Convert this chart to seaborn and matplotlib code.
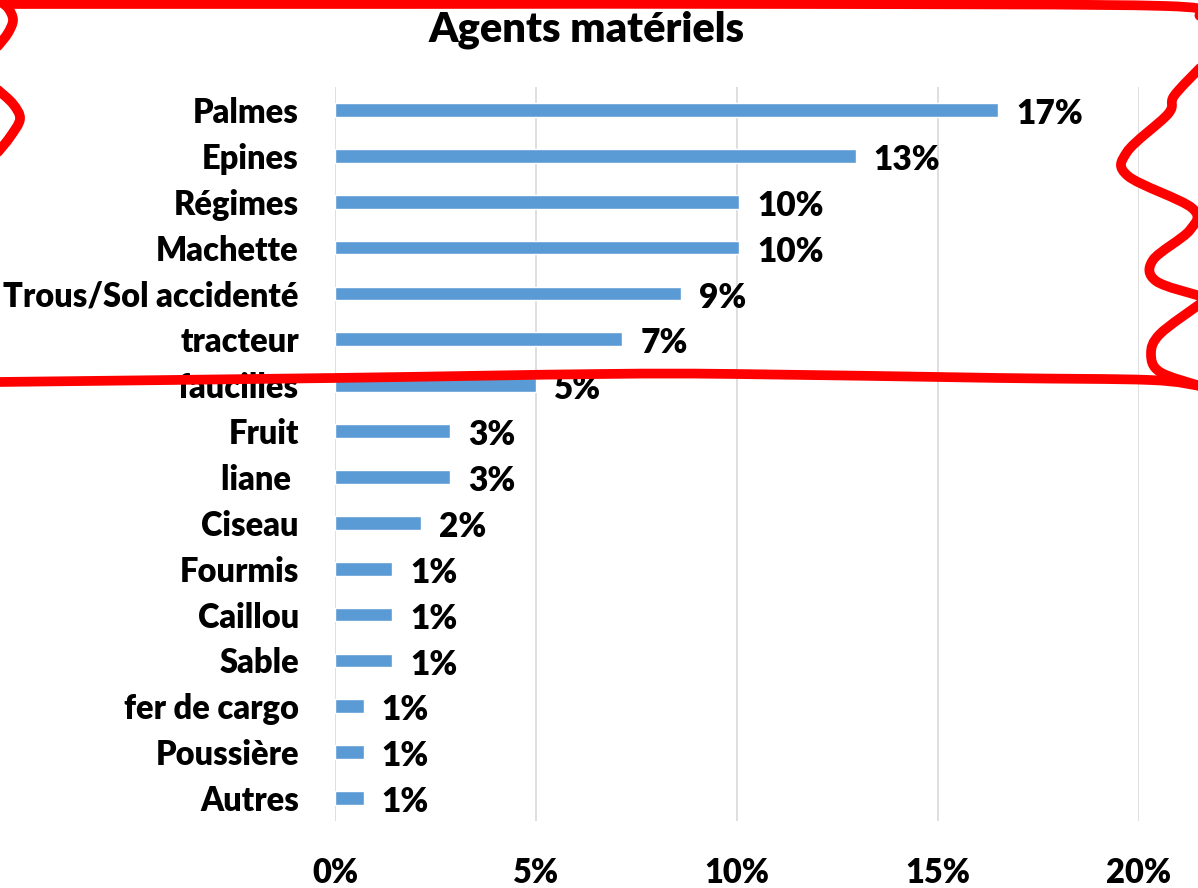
import numpy as np
import pandas as pd
import seaborn as sns
import matplotlib.pyplot as plt
from matplotlib.path import Path
from matplotlib.patches import PathPatch

agents = ["Palmes", "Epines", "Régimes", "Machette", "Trous/Sol accidenté",
          "tracteur", "faucilles", "Fruit", "liane ", "Ciseau", "Fourmis",
          "Caillou", "Sable", "fer de cargo", "Poussière", "Autres"]
pct = [16.5, 12.95, 10.05, 10.05, 8.6, 7.15, 5.0, 2.86, 2.86, 2.14,
       1.43, 1.43, 1.43, 0.71, 0.71, 0.71]
pct_labels = ["17%", "13%", "10%", "10%", "9%", "7%", "5%", "3%", "3%", "2%",
              "1%", "1%", "1%", "1%", "1%", "1%"]
xticks = [0, 5, 10, 15, 20]
xtick_labels = ["0%", "5%", "10%", "15%", "20%"]

df = pd.DataFrame({"agent": agents, "pct": pct})

sns.set_style("white")
plt.rcParams['font.family'] = ['Lato', 'DejaVu Sans']
plt.rcParams['text.color'] = 'black'
plt.rcParams['xtick.color'] = 'black'
plt.rcParams['ytick.color'] = 'black'
WT = 'heavy'

W, H = 1198, 888
fig = plt.figure(figsize=(W / 100, H / 100), dpi=100)
ax = fig.add_axes([335 / W, 1 - 821 / H, (1139 - 335) / W, (821 - 87) / H])

sns.barplot(data=df, x="pct", y="agent", orient="h", color="#5B9BD5",
            width=0.3, saturation=1, ax=ax)

ax.set_xlim(0, 20)
ax.set_ylim(len(agents) - 0.5, -0.5)
ax.set_xticks(xticks)
ax.set_xticklabels(xtick_labels, fontsize=23.5, fontweight=WT)
ax.tick_params(axis='x', pad=26, length=0, labelcolor='black')
ax.tick_params(axis='y', pad=26, length=0, labelsize=23.5, labelcolor='black')
for t in ax.get_yticklabels():
    t.set_fontweight(WT)
ax.set_xlabel("")
ax.set_ylabel("")
ax.grid(axis='x', color='#D9D9D9', linewidth=1.2)
ax.set_axisbelow(True)
for s in ax.spines.values():
    s.set_visible(False)

vals = ax.bar_label(ax.containers[0], labels=pct_labels, padding=13,
                    fontsize=24, fontweight=WT, color='black')
for t in vals:
    t.xyann = (13, -3)

fig.text(587 / W, 1 - 30 / H, "Agents matériels", ha='center', va='center',
         fontsize=30, fontweight=WT, color='black')


# red hand-drawn highlight around the top of the chart
def smooth(pts):
    pts = np.asarray(pts, float)
    p = np.vstack([pts[0], pts, pts[-1]])
    verts = [pts[0]]
    codes = [Path.MOVETO]
    for i in range(1, len(p) - 2):
        c1 = p[i] + (p[i + 1] - p[i - 1]) / 6
        c2 = p[i + 1] - (p[i + 2] - p[i]) / 6
        verts += [c1, c2, p[i + 1]]
        codes += [Path.CURVE4] * 3
    verts = np.array(verts)
    verts[:, 0] = verts[:, 0] / W
    verts[:, 1] = 1 - verts[:, 1] / H
    return Path(verts, codes)


strokes = [
    [(8, 4), (400, 4), (800, 4), (1165, 6), (1200, 16)],
    [(-2, 0), (8, 8), (13, 20), (8, 33), (-2, 46)],
    [(-2, 90), (13, 104), (20, 119), (10, 137), (-2, 152)],
    [(1200, 68), (1174, 96), (1168, 114), (1127, 152), (1128, 176),
     (1192, 208), (1190, 230), (1153, 260), (1156, 281), (1200, 296)],
    [(1200, 304), (1160, 334), (1151, 354), (1160, 372), (1200, 386)],
    [(-2, 382), (333, 378), (600, 374), (736, 374), (1000, 378),
     (1150, 380), (1200, 386)],
]
for st in strokes:
    fig.add_artist(PathPatch(smooth(st), transform=fig.transFigure,
                             fill=False, edgecolor='#FF0000', linewidth=7,
                             capstyle='round', joinstyle='round'))

fig.savefig("out.png", dpi=100)
